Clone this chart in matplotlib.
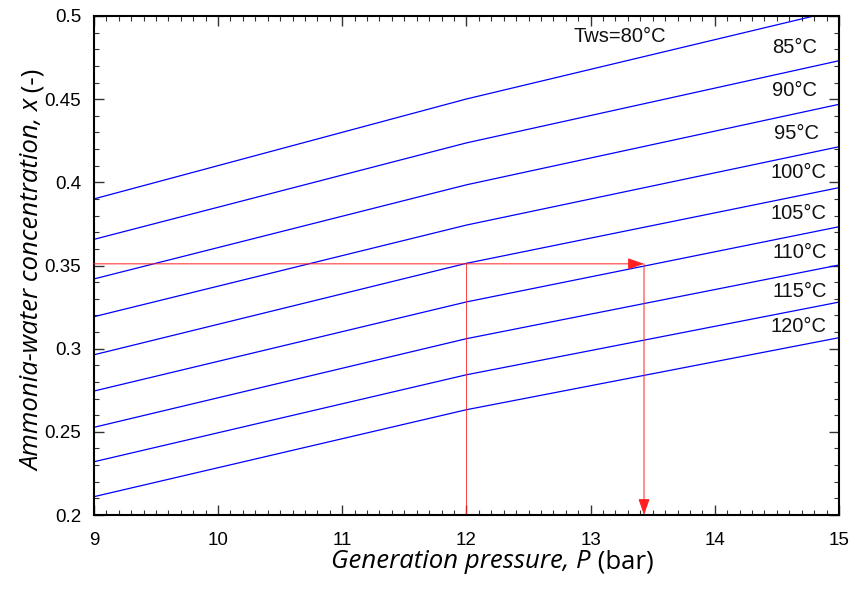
import matplotlib
matplotlib.use("Agg")
import matplotlib.pyplot as plt
from matplotlib.ticker import MultipleLocator

# ---- data ----
pressure = [9, 12, 15]                       # bar
temps = ["80", "85", "90", "95", "100", "105", "110", "115", "120"]
conc = {
    "80":  [0.390, 0.4501, 0.5036],
    "85":  [0.3657, 0.4237, 0.4731],
    "90":  [0.3419, 0.3985, 0.4469],
    "95":  [0.3192, 0.3743, 0.4214],
    "100": [0.2963, 0.3513, 0.3968],
    "105": [0.2745, 0.3281, 0.3733],
    "110": [0.2527, 0.3060, 0.3503],
    "115": [0.2320, 0.2843, 0.3280],
    "120": [0.2110, 0.2633, 0.3066],
}
label_text = ["Tws=80°C", "85°C", "90°C", "95°C", "100°C", "105°C", "110°C", "115°C", "120°C"]
label_x = [13.61, 14.82, 14.82, 14.84, 14.9, 14.9, 14.9, 14.9, 14.9]
label_y = [0.4874, 0.481, 0.4551, 0.4295, 0.4058, 0.381, 0.3579, 0.3346, 0.3132]

# reading example (red guide lines)
p_read_start = 9.0
p_known = 12.0
x_read = 0.351
p_result = 13.43
y_floor = 0.2

xticks = [9, 10, 11, 12, 13, 14, 15]
yticks = [0.2, 0.25, 0.3, 0.35, 0.4, 0.45, 0.5]
ytick_labels = ["0.2", "0.25", "0.3", "0.35", "0.4", "0.45", "0.5"]

plt.rcParams["font.family"] = ["Liberation Sans", "DejaVu Sans"]

fig = plt.figure(figsize=(8.53, 5.90), dpi=100)
ax = fig.add_axes([0.110, 0.1271, 0.8736, 0.8458])

for t in temps:
    ax.plot(pressure, conc[t], color="#0000ff", lw=0.9, clip_on=True)

for txt, lx, ly in zip(label_text, label_x, label_y):
    ax.text(lx, ly, txt, ha="right", va="center", fontsize=14.5, color="#111111")

red = "#ff2020"
ax.plot([p_known, p_known], [y_floor, x_read], color=red, lw=0.7, alpha=0.85)
ax.annotate("", xy=(p_result, x_read), xytext=(p_read_start, x_read),
            arrowprops=dict(arrowstyle="-|>,head_length=1.0,head_width=0.35",
                            color=red, lw=0.7, shrinkA=0, shrinkB=0))
ax.annotate("", xy=(p_result, y_floor), xytext=(p_result, x_read),
            arrowprops=dict(arrowstyle="-|>,head_length=1.0,head_width=0.35",
                            color=red, lw=0.7, shrinkA=0, shrinkB=0))

ax.set_xlim(9, 15)
ax.set_ylim(0.2, 0.5)
ax.set_xticks(xticks)
ax.set_xticklabels([str(v) for v in xticks])
ax.set_yticks(yticks)
ax.set_yticklabels(ytick_labels)
ax.xaxis.set_minor_locator(MultipleLocator(0.1))
ax.yaxis.set_minor_locator(MultipleLocator(0.01))
ax.tick_params(which="both", direction="in", top=True, right=True, color="#333333")
ax.tick_params(which="major", length=7, width=1.0, labelsize=13.5)
ax.tick_params(axis="x", which="major", pad=12)
ax.tick_params(axis="y", which="major", pad=9)
ax.tick_params(which="minor", length=3.5, width=0.8)
for s in ax.spines.values():
    s.set_linewidth(1.5)

# axis labels: italic part + upright unit
xl = ax.text(0.493, -0.094, "Generation pressure, P", transform=ax.transAxes,
             ha="center", va="center", fontsize=18.5, style="italic", family="Open Sans")
ax.annotate(" (bar)", xy=(1, 0), xycoords=xl, ha="left", va="bottom",
            fontsize=18.5, family="Open Sans")
yl = ax.text(-0.082, 0.461, "Ammonia-water concentration, x", transform=ax.transAxes,
             ha="center", va="center", rotation=90, fontsize=18.5, style="italic",
             family="Open Sans")
ax.annotate(" (-)", xy=(0, 1), xycoords=yl, ha="left", va="bottom", rotation=90,
            fontsize=18.5, family="Open Sans")

fig.savefig("out.png", dpi=100)
